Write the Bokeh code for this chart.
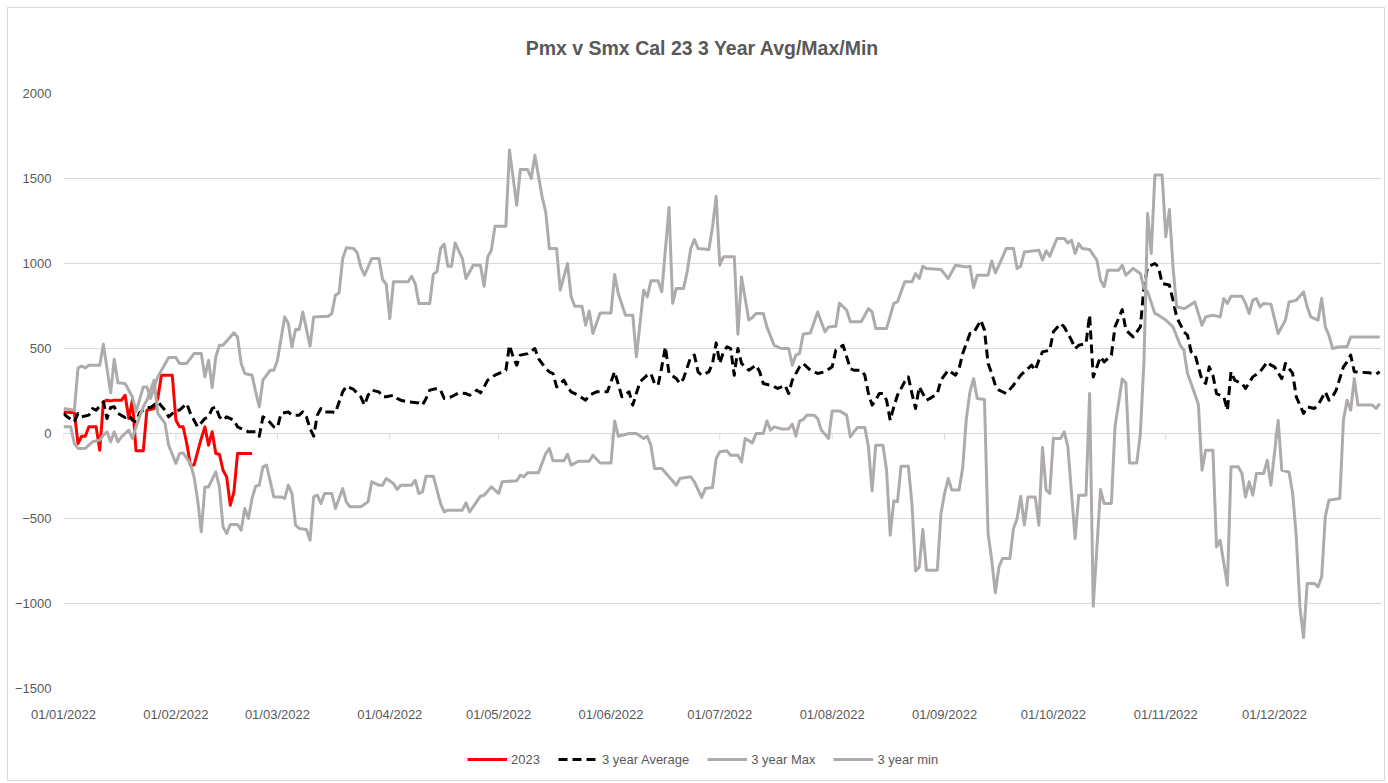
import datetime as dt
from bokeh.plotting import figure
from bokeh.layouts import column
from bokeh.models import (Range1d, FixedTicker, DatetimeTickFormatter, Legend, LegendItem, Label)
from bokeh.embed import file_html
from bokeh.resources import INLINE

# ---------------- data ----------------
title_text = "Pmx v Smx Cal 23 3 Year Avg/Max/Min"
base_date = "01/01/2022"
month_labels = ["01/01/2022", "01/02/2022", "01/03/2022", "01/04/2022", "01/05/2022", "01/06/2022",
                "01/07/2022", "01/08/2022", "01/09/2022", "01/10/2022", "01/11/2022", "01/12/2022"]
y_ticks = [-1500, -1000, -500, 0, 500, 1000, 1500, 2000]
series_names = ["2023", "3 year Average", "3 year Max", "3 year min"]

# (day offset from 01/01/2022, value)
red_pts = [(0,127),(3,122),(4,-59),(5,-16),(6,-16),(7,39),(9,39),(10,-98),(11,186),(12,196),(13,192),(14,196),
           (16,196),(17,225),(18,88),(19,196),(20,-102),(22,-102),(23,137),(25,147),(26,206),(27,343),(30,343),
           (31,78),(32,39),(33,39),(34,-59),(35,-186),(36,-186),(38,-29),(39,39),(40,-69),(41,10),(42,-118),
           (43,-122),(44,-216),(45,-255),(46,-422),(47,-343),(48,-118),(52,-118)]

avg_pts = [(0,118),(1,98),(3,69),(4,118),(5,98),(7,108),(8,147),(9,137),(11,186),(12,88),(13,153),(14,157),(15,118),
           (17,94),(18,108),(19,78),(20,69),(21,122),(23,153),(24,153),(25,167),(26,186),(28,137),(29,98),(31,137),
           (32,137),(34,176),(35,118),(36,78),(37,39),(39,88),(40,98),(41,147),(42,157),(43,98),(44,78),(45,98),
           (47,78),(48,39),(49,29),(51,10),(53,10),(54,-16),(55,98),(56,88),(58,39),(59,35),(60,118),(62,127),
           (63,108),(65,108),(66,127),(67,98),(68,29),(69,-16),(70,108),(71,147),(72,127),(74,127),(75,122),
           (77,245),(78,278),(80,259),(82,216),(83,167),(84,225),(85,255),(87,245),(88,216),(89,216),(91,225),
           (92,206),(93,196),(95,186),(98,180),(99,167),(100,206),(101,255),(103,265),(104,255),(105,206),
           (107,216),(109,239),(111,235),(112,225),(114,255),(115,239),(116,274),(117,314),(119,343),(121,363),
           (122,372),(123,519),(124,451),(125,402),(126,461),(128,470),(130,500),(131,441),(133,382),(134,363),
           (135,353),(136,274),(138,314),(139,274),(140,245),(142,225),(144,196),(145,225),(147,245),(150,245),
           (152,363),(154,216),(156,245),(157,167),(159,304),(161,343),(162,353),(163,294),(164,284),(165,392),
           (166,510),(167,353),(169,323),(170,294),(171,323),(173,451),(174,461),(175,363),(176,343),(178,363),
           (179,412),(180,533),(181,412),(182,480),(183,510),(184,500),(185,343),(186,500),(187,412),(189,372),
           (191,402),(192,363),(193,294),(195,284),(197,265),(199,284),(200,235),(201,314),(203,392),(204,412),
           (206,372),(207,363),(208,353),(210,363),(212,392),(213,490),(215,519),(216,451),(217,382),(218,372),
           (220,372),(221,343),(222,235),(223,167),(224,196),(225,235),(226,235),(227,196),(228,78),(229,157),
           (230,225),(232,304),(233,333),(234,235),(235,147),(236,274),(238,196),(239,206),(241,235),(242,314),
           (244,372),(246,343),(247,382),(248,470),(250,588),(251,592),(253,666),(254,608),(255,412),(256,353),
           (257,284),(258,255),(260,235),(262,284),(264,343),(266,382),(267,402),(268,372),(269,431),(270,480),
           (272,490),(273,598),(275,647),(276,627),(278,549),(279,500),(280,519),(282,529),(283,696),(284,333),
           (286,451),(287,421),(289,461),(290,627),(292,729),(293,608),(295,568),(297,627),(298,863),(299,980),
           (301,1000),(302,980),(303,882),(305,873),(306,784),(307,686),(309,598),(310,578),(311,480),(312,470),
           (314,314),(315,294),(316,392),(317,343),(318,235),(319,225),(320,216),(321,137),(322,363),(323,314),
           (325,294),(326,265),(328,333),(330,363),(332,421),(333,402),(334,392),(336,323),(337,412),(339,353),
           (340,216),(342,118),(343,157),(345,147),(346,167),(348,245),(349,196),(350,216),(351,255),(353,392),
           (354,421),(355,461),(356,363),(360,357),(362,349),(363,363)]

max_pts = [(0,147),(3,137),(4,385),(5,397),(6,385),(7,402),(10,402),(11,525),(13,239),(14,437),(15,298),(17,294),
           (19,215),(20,127),(22,274),(23,274),(24,206),(26,333),(29,447),(31,447),(32,412),(34,412),(36,470),
           (38,470),(39,333),(40,431),(41,270),(42,451),(43,519),(44,519),(47,592),(48,568),(49,412),(50,353),
           (52,343),(53,245),(54,157),(55,314),(57,372),(58,372),(59,431),(61,686),(62,647),(63,509),(64,612),
           (65,612),(66,715),(68,514),(69,686),(73,690),(74,706),(75,814),(76,827),(77,1029),(78,1092),(80,1088),
           (81,1063),(82,980),(83,931),(85,1029),(87,1029),(88,906),(89,878),(90,676),(91,892),(95,892),(96,925),
           (97,882),(98,765),(101,765),(102,937),(103,951),(104,1088),(105,1114),(106,984),(107,984),(108,1121),
           (110,1029),(111,912),(113,990),(115,990),(116,866),(117,1039),(118,1078),(119,1219),(122,1219),
           (123,1667),(125,1343),(126,1553),(128,1553),(129,1500),(130,1637),(132,1392),(133,1304),(134,1088),
           (136,1088),(137,843),(139,1000),(140,804),(141,749),(143,749),(144,637),(145,721),(146,588),(148,709),
           (151,709),(152,935),(153,823),(155,696),(157,696),(158,451),(160,843),(161,804),(162,898),(164,898),
           (165,833),(167,1329),(168,765),(169,853),(171,853),(172,951),(173,1088),(174,1141),(175,1088),
           (178,1082),(179,1215),(180,1396),(181,990),(182,1039),(185,1039),(186,584),(187,921),(189,667),
           (190,682),(191,706),(193,706),(194,627),(196,519),(198,500),(200,500),(201,402),(202,461),(203,471),
           (204,584),(206,592),(208,715),(210,598),(211,627),(213,631),(214,768),(216,725),(217,657),(220,657),
           (222,735),(223,715),(224,618),(227,618),(229,765),(230,774),(232,892),(234,892),(235,941),(236,912),
           (237,984),(238,971),(242,965),(244,912),(246,990),(249,980),(250,984),(251,859),(252,931),(255,931),
           (256,1015),(257,945),(258,990),(260,1088),(262,1088),(263,971),(264,984),(265,1068),(269,1078),
           (270,1020),(271,1074),(272,1043),(274,1147),(276,1147),(277,1121),(278,1137),(279,1059),(280,1117),
           (281,1088),(283,1082),(285,1020),(286,902),(287,863),(288,961),(291,961),(292,990),(293,931),(295,971),
           (297,941),(298,853),(299,833),(301,706),(302,696),(304,667),(306,627),(308,519),(309,490),(310,353),
           (311,294),(313,170),(314,-216),(315,-98),(317,-98),(318,-667),(319,-628),(321,-892),(322,-196),
           (324,-196),(325,-235),(326,-373),(327,-284),(328,-363),(329,-235),(331,-235),(332,-157),(333,-304),
           (335,78),(336,-216),(338,-226),(339,-353),(340,-608),(341,-1020),(342,-1200),(343,-882),(345,-882),
           (346,-902),(347,-843),(348,-490),(349,-392),(352,-382),(353,78),(354,196),(355,137),(356,323),
           (357,167),(361,167),(362,147),(363,176)]

min_pts = [(0,39),(2,39),(3,-59),(4,-88),(6,-88),(8,-49),(10,-39),(11,-10),(12,10),(13,-49),(14,10),(15,-49),
           (16,-20),(18,20),(19,-29),(20,39),(22,157),(23,196),(25,314),(26,118),(28,59),(29,-69),(31,-176),
           (32,-118),(33,-114),(35,-176),(36,-255),(37,-392),(38,-578),(39,-314),(40,-314),(42,-226),(43,-314),
           (44,-549),(45,-588),(46,-535),(48,-535),(49,-569),(50,-441),(51,-500),(52,-382),(53,-310),(54,-304),
           (55,-196),(56,-186),(58,-373),(60,-373),(61,-382),(62,-304),(63,-353),(64,-539),(65,-559),(67,-565),
           (68,-628),(69,-373),(70,-363),(71,-412),(72,-353),(74,-353),(75,-441),(77,-324),(78,-402),(79,-431),
           (82,-431),(84,-402),(85,-284),(87,-304),(88,-304),(89,-265),(91,-294),(92,-329),(93,-304),(96,-304),
           (97,-275),(98,-353),(99,-343),(100,-251),(102,-251),(104,-412),(105,-461),(106,-451),(110,-451),
           (111,-408),(112,-461),(115,-369),(116,-363),(118,-314),(119,-333),(120,-353),(121,-284),(125,-278),
           (126,-245),(127,-255),(128,-231),(131,-231),(133,-118),(134,-88),(135,-161),(138,-161),(139,-122),
           (140,-186),(142,-163),(145,-163),(146,-128),(148,-173),(151,-173),(152,74),(153,-16),(156,0),(158,0),
           (160,-29),(161,-16),(162,-69),(163,-206),(165,-206),(167,-255),(169,-304),(170,-265),(173,-255),
           (174,-284),(176,-376),(177,-324),(179,-318),(180,-147),(181,-108),(183,-102),(184,-128),(186,-128),
           (187,-167),(188,-29),(190,-55),(191,0),(193,0),(194,74),(195,20),(196,39),(198,27),(200,27),(201,55),
           (202,-16),(203,74),(204,82),(205,108),(207,108),(208,88),(209,20),(211,-29),(212,133),(214,133),
           (216,108),(217,-20),(218,10),(219,35),(221,35),(222,-78),(223,-337),(224,-69),(226,-69),(227,-216),
           (228,-598),(229,-396),(230,-402),(231,-192),(233,-192),(234,-412),(235,-808),(236,-788),(237,-565),
           (238,-804),(241,-804),(242,-471),(243,-353),(244,-265),(245,-333),(247,-333),(248,-200),(249,88),
           (250,245),(251,323),(252,206),(254,200),(255,-588),(256,-745),(257,-937),(258,-784),(259,-735),
           (261,-735),(262,-559),(263,-500),(264,-369),(265,-539),(266,-373),(268,-373),(269,-539),(270,-82),
           (271,-333),(272,-353),(273,-29),(275,-29),(276,10),(277,-78),(279,-618),(280,-363),(282,-363),(283,235),
           (284,-1016),(286,-329),(287,-412),(289,-412),(290,39),(292,320),(293,298),(294,-173),(296,-173),(297,0),
           (298,431),(299,1294),(300,1059),(301,1520),(303,1520),(304,1157),(305,1318),(306,980),(307,745),
           (309,735),(310,745),(312,774),(314,637),(315,686),(317,696),(319,686),(320,794),(321,765),(322,808),
           (325,808),(326,765),(327,706),(328,784),(329,794),(330,745),(331,765),(333,761),(335,588),(337,667),
           (338,774),(340,784),(342,833),(343,745),(344,686),(346,667),(347,794),(348,627),(349,578),(350,500),
           (352,510),(354,510),(355,568),(363,568)]

# ---------------- helpers ----------------
BASE = dt.datetime.strptime(base_date, "%d/%m/%Y")

def unzip(pts):
    xs = [BASE + dt.timedelta(days=d) for d, _ in pts]
    ys = [v for _, v in pts]
    return xs, ys

month_dates = [dt.datetime.strptime(s, "%d/%m/%Y") for s in month_labels]
month_ms = [(d - dt.datetime(1970, 1, 1)).total_seconds() * 1000 for d in month_dates]

FONT = "Liberation Sans"
TXT = "#595959"
GRID = "#d9d9d9"
GRAY = "#afabab"
STYLES = [dict(line_color="#ff0000", line_width=3),
          dict(line_color="#000000", line_width=3, line_dash="9 5"),
          dict(line_color=GRAY, line_width=3),
          dict(line_color=GRAY, line_width=3)]
ALL_SERIES = [red_pts, avg_pts, max_pts, min_pts]


def strip(h):
    f = figure(frame_width=1376, frame_height=h, output_backend="svg", toolbar_location=None,
               x_range=Range1d(0, 1), y_range=Range1d(0, 1), min_border=0)
    f.axis.visible = False
    f.grid.visible = False
    f.outline_line_color = None
    f.background_fill_color = "white"
    f.border_fill_color = "white"
    f.title.visible = False
    return f

# ---------------- title strip ----------------
top = strip(77)
top.add_layout(Label(x=639, y=38, x_units="screen", y_units="screen", text=title_text,
                     text_align="center", text_baseline="middle", text_font=FONT,
                     text_font_size="19.5px", text_font_style="bold", text_color=TXT))

# ---------------- main chart ----------------
p = figure(frame_width=1318, frame_height=595, x_axis_type="datetime", output_backend="svg",
           toolbar_location=None,
           x_range=Range1d(BASE, BASE + dt.timedelta(days=363.5)), y_range=Range1d(-1500, 2000),
           min_border_left=55, min_border_right=3, min_border_top=8, min_border_bottom=40)
p.title.visible = False
p.outline_line_color = None
p.background_fill_color = "white"
p.border_fill_color = "white"

p.xgrid.visible = False
p.ygrid.grid_line_color = GRID
p.ygrid.grid_line_width = 1
p.ygrid.ticker = FixedTicker(ticks=y_ticks)

p.yaxis.ticker = FixedTicker(ticks=y_ticks)
p.yaxis.axis_line_color = None
p.yaxis.major_tick_line_color = None
p.yaxis.minor_tick_line_color = None
p.yaxis.major_label_standoff = 6
p.yaxis.major_label_text_font = FONT
p.yaxis.major_label_text_font_size = "13px"
p.yaxis.major_label_text_color = TXT

fmt = "%d/%m/%Y"
p.xaxis.ticker = FixedTicker(ticks=month_ms)
p.xaxis.formatter = DatetimeTickFormatter(milliseconds=fmt, seconds=fmt, minsec=fmt, minutes=fmt, hourmin=fmt,
                                          hours=fmt, days=fmt, months=fmt, years=fmt)
p.xaxis.axis_line_color = None
p.xaxis.major_tick_line_color = None
p.xaxis.minor_tick_line_color = None
p.xaxis.major_label_standoff = 12
p.xaxis.major_label_text_font = FONT
p.xaxis.major_label_text_font_size = "13px"
p.xaxis.major_label_text_color = TXT

# small tick marks hanging from the zero line at month starts
p.segment(x0=month_dates, y0=[0] * len(month_dates), x1=month_dates, y1=[-35] * len(month_dates),
          line_color=GRID, line_width=1)

for pts, st in zip(ALL_SERIES, STYLES):
    xs, ys = unzip(pts)
    p.line(xs, ys, line_join="round", **st)

# ---------------- legend strip (same series, drawn out of view, only the legend shows) ----------------
lg = strip(52)
items = []
for name, pts, st in zip(series_names, ALL_SERIES, STYLES):
    xs, ys = unzip(pts)
    r = lg.line(xs, ys, **st)
    items.append(LegendItem(label=name, renderers=[r]))

legend = Legend(items=items, orientation="horizontal", location=(459, 12))
legend.label_text_font = FONT
legend.label_text_font_size = "13px"
legend.label_text_color = TXT
legend.glyph_width = 40
legend.glyph_height = 18
legend.label_standoff = 4
legend.spacing = 18
legend.padding = 0
legend.margin = 0
legend.border_line_color = None
legend.background_fill_alpha = 0
lg.add_layout(legend, "center")

layout = column(top, p, lg, spacing=0)
layout.styles = {"border": "1px solid #d9d9d9", "margin-left": "7px", "margin-top": "7px"}

open("out.html", "w").write(file_html(layout, INLINE))
